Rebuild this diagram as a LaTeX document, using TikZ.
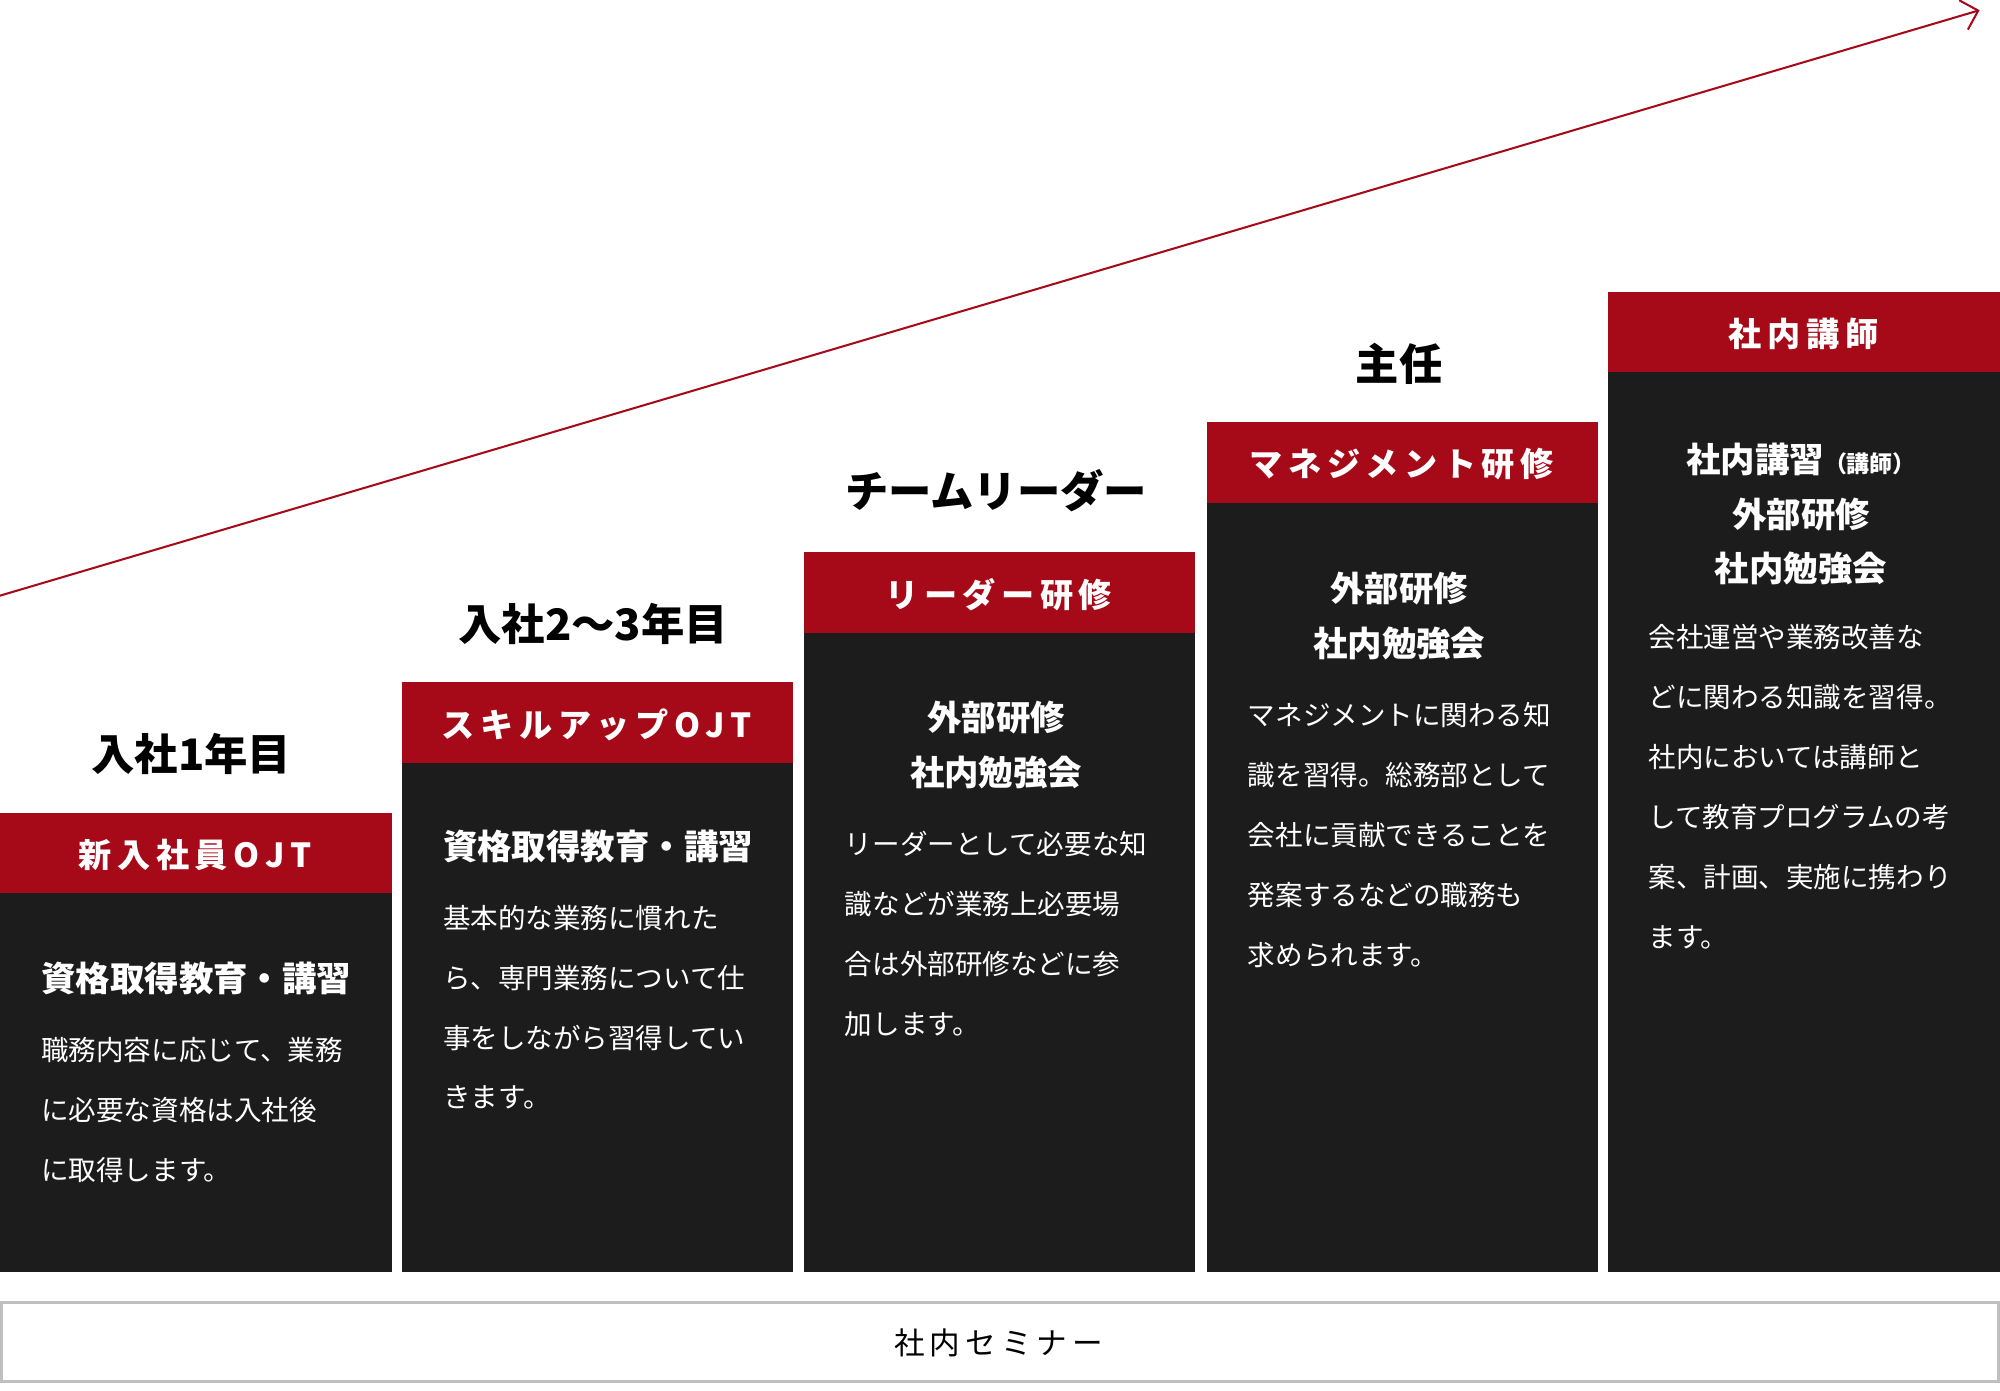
\documentclass[tikz,border=0pt]{standalone}
\usepackage{fontspec}
\usetikzlibrary{arrows.meta}
\setmainfont{Noto Sans CJK JP}
\begin{document}
\begin{tikzpicture}[x=0.5pt,y=-0.5pt,
  htxt/.style={text=white,font=\fontsize{13}{15}\selectfont\bfseries},
  sub/.style={text=white,font=\fontsize{13.5}{21.5}\selectfont\bfseries,align=center,inner sep=0},
  body/.style={text=white,font=\fontsize{10.8}{23.5}\selectfont,align=left,anchor=north west,inner sep=0},
  ttl/.style={font=\fontsize{17}{20}\selectfont\bfseries}]
\useasboundingbox (0,0) rectangle (1568,1090);
\definecolor{rd}{RGB}{166,10,24}
% arrow
\coordinate (a0) at (0,467); \coordinate (a1) at (1552,8);
\draw[rd,line width=0.8pt,-{Straight Barb[length=6pt]}] (a0) -- (a1);
% columns
\foreach \x/\t in {0/637,315/535,630/433,946/331,1261/229}{
  \fill[black!89] (\x,\t) rectangle ++(307,360-\t+637);
  \fill[rd] (\x,\t) rectangle ++(307,63);
}
\node[htxt] (h1) at (153,670) {新\,入\,社\,員\,O\,J\,T};
\node[htxt] (h2) at (468,568) {ス\,キ\,ル\,ア\,ッ\,プ\,O\,J\,T};
\node[htxt] (h3) at (783,466) {リ\,ー\,ダ\,ー\,研\,修};
\node[htxt] (h4) at (1099,364) {マ\,ネ\,ジ\,メ\,ン\,ト\,研\,修};
\node[htxt] (h5) at (1414,262) {社\,内\,講\,師};
\node[ttl] (t1) at (150,591) {入社1年目};
\node[ttl] (t2) at (465,489) {入社2〜3年目};
\node[ttl] (t3) at (781,385) {チームリーダー};
\node[ttl] (t4) at (1097,285) {主任};
\node[sub,anchor=west] (s1) at (32,767) {資格取得教育・講習};
\node[sub,anchor=west] (s2) at (347,664) {資格取得教育・講習};
\node[sub] (s3) at (781,584) {外部研修\\社内勉強会};
\node[sub] (s4) at (1097,483) {外部研修\\社内勉強会};
\node[sub] (s5) at (1412,403) {社内講習{\fontsize{9}{10}\selectfont（講師）}\\外部研修\\社内勉強会};
\node[body] (b1) at (32,813) {職務内容に応じて、業務\\に必要な資格は入社後\\に取得します。};
\node[body] (b2) at (347,709) {基本的な業務に慣れた\\ら、専門業務について仕\\事をしながら習得してい\\きます。};
\node[body] (b3) at (662,651) {リーダーとして必要な知\\識などが業務上必要場\\合は外部研修などに参\\加します。};
\node[body] (b4) at (978,550) {マネジメントに関わる知\\識を習得。総務部として\\会社に貢献できることを\\発案するなどの職務も\\求められます。};
\node[body] (b5) at (1292,489) {会社運営や業務改善な\\どに関わる知識を習得。\\社内においては講師と\\して教育プログラムの考\\案、計画、実施に携わり\\ます。};
\draw[black!25,line width=1pt] (1,1021) rectangle (1567,1083);
\node[font=\fontsize{12}{14}\selectfont] (sem) at (783,1053) {社\,内\,セ\,ミ\,ナ\,ー};
\end{tikzpicture}
\end{document}
